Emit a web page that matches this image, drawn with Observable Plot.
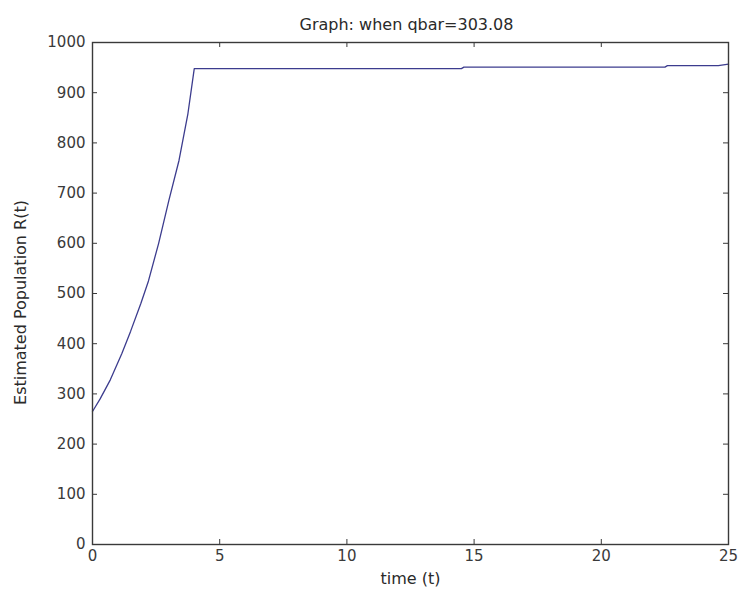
<!DOCTYPE html>
<html>
<head>
<meta charset="utf-8">
<script src="https://cdn.jsdelivr.net/npm/d3@7"></script>
<script src="https://cdn.jsdelivr.net/npm/@observablehq/plot@0.6"></script>
<style>
  html, body { margin: 0; padding: 0; background: #fff; }
  #chart svg { display: block; }
</style>
</head>
<body>
<div id="chart"></div>
<script>
const titleText = "Graph: when qbar=303.08";
const xLabel = "time (t)";
const yLabel = "Estimated Population R(t)";
const tValues = [0, 0.3, 0.7, 1.15, 1.5, 1.9, 2.2, 2.6, 3.0, 3.4, 3.75, 4.0, 14.5, 14.6, 22.5, 22.6, 24.6, 25];
const rValues = [265, 290, 328, 380, 425, 480, 525, 600, 685, 765, 858, 948, 948, 951, 951, 954, 954, 957];
const xTicks = [0, 5, 10, 15, 20, 25];
const yTicks = [0, 100, 200, 300, 400, 500, 600, 700, 800, 900, 1000];

const data = tValues.map((t, i) => ({t, r: rValues[i]}));
const W = 739, H = 599, ML = 92, MR = 11, MT = 42, MB = 55;
const plotW = W - ML - MR, plotH = H - MT - MB;
const tickLen = 5;
const axisColor = "#3a3a3a";
const font = "DejaVu Sans, Liberation Sans, sans-serif";
const fs = 15;
const fsLabel = 16;

const chart = Plot.plot({
  width: W,
  height: H,
  marginLeft: ML,
  marginRight: MR,
  marginTop: MT,
  marginBottom: MB,
  style: {fontFamily: font, background: "#fff", color: axisColor},
  x: {domain: [0, 25]},
  y: {domain: [0, 1000]},
  marks: [
    // inward ticks on all four sides
    Plot.tickY(yTicks, {y: d => d, stroke: axisColor, insetRight: plotW - tickLen}),
    Plot.tickY(yTicks, {y: d => d, stroke: axisColor, insetLeft: plotW - tickLen}),
    Plot.tickX(xTicks, {x: d => d, stroke: axisColor, insetTop: plotH - tickLen}),
    Plot.tickX(xTicks, {x: d => d, stroke: axisColor, insetBottom: plotH - tickLen}),
    Plot.line(data, {x: "t", y: "r", stroke: "#3c3c8e", strokeWidth: 1.3}),
    Plot.frame({stroke: axisColor, strokeWidth: 1.4}),
    // tick labels
    Plot.axisY(yTicks, {anchor: "left", tickSize: 0, tickPadding: 7, fontSize: fs, fill: axisColor, tickFormat: d3.format("d"), label: null}),
    Plot.axisX(xTicks, {anchor: "bottom", tickSize: 0, tickPadding: 6, fontSize: fs, fill: axisColor, tickFormat: d3.format("d"), label: null}),
    // title and axis labels
    Plot.text([titleText], {frameAnchor: "top", dx: -4, dy: -24, fontSize: fsLabel, fill: "#2a2a2a", fontFamily: font}),
    Plot.text([xLabel], {frameAnchor: "bottom", dy: 39, fontSize: fsLabel, fill: "#2a2a2a", fontFamily: font}),
    Plot.text([yLabel], {frameAnchor: "left", textAnchor: "middle", dx: -72, dy: 9, rotate: -90, fontSize: fsLabel, fill: "#2a2a2a", fontFamily: font})
  ]
});
document.getElementById("chart").appendChild(chart);
</script>
</body>
</html>
